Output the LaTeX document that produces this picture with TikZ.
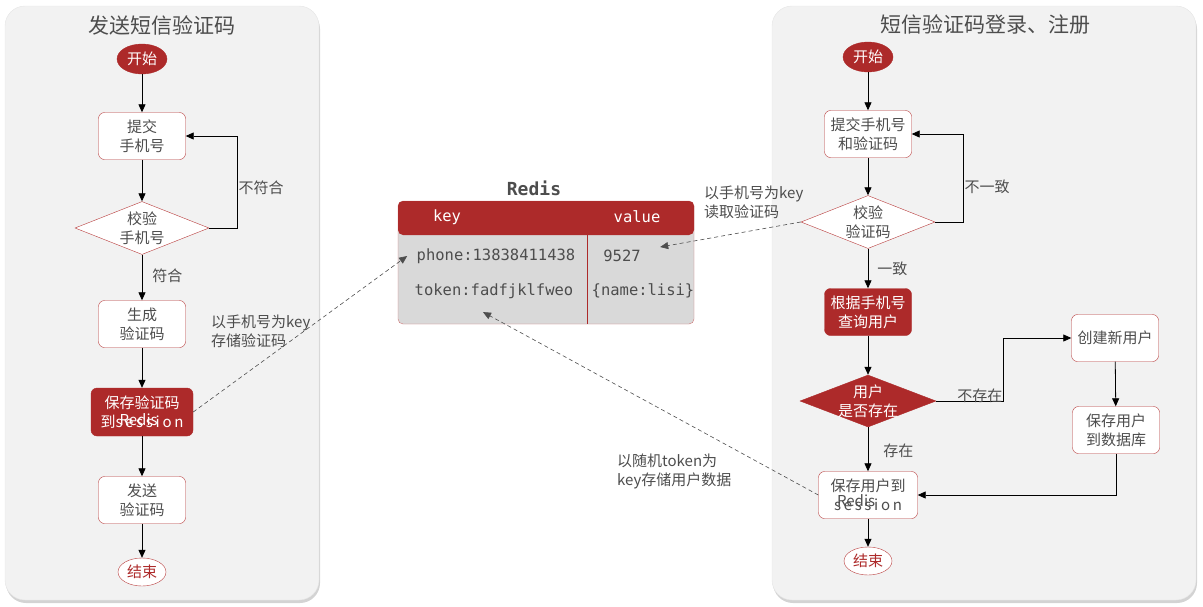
\documentclass[tikz,border=0pt]{standalone}
\usepackage{fontspec}
\usepackage{tikz}
\usetikzlibrary{shapes.geometric, arrows.meta, shadows}
\newfontfamily\cjk{Noto Sans CJK SC}
\newfontfamily\cjkwide[LetterSpace=18]{Noto Sans CJK SC}
\newfontfamily\monof{DejaVu Sans Mono}
\definecolor{rdred}{HTML}{AD2A2A}
\definecolor{rdline}{HTML}{B83A3A}
\definecolor{txtgray}{HTML}{4D4D4D}
\definecolor{panelgray}{HTML}{F2F2F2}
\definecolor{cellgray}{HTML}{D9D9D9}
\begin{document}
\begin{tikzpicture}[x=1pt, y=-1pt,
  every node/.style={font=\cjk\fontsize{15}{19}\selectfont, text=txtgray, align=center},
  panel/.style={fill=panelgray, draw=gray!20, rounded corners=20pt,
    drop shadow={shadow xshift=1pt, shadow yshift=-3pt, opacity=0.35}},
  procbox/.style={draw=rdline, fill=white, rounded corners=6pt, minimum width=87pt, minimum height=47pt, inner sep=0pt},
  redbox/.style={procbox, draw=rdred, fill=rdred, text=white},
  decide/.style={diamond, draw=rdline, fill=white, aspect=2.5, inner sep=-4pt, minimum width=134pt, minimum height=53pt},
  reddecide/.style={decide, draw=rdred, fill=rdred, text=white},
  startnode/.style={ellipse, draw=rdred, fill=rdred, text=white, minimum width=50pt, minimum height=30pt, inner sep=0pt},
  endnode/.style={ellipse, draw=rdline, fill=white, text=rdred, minimum width=48pt, minimum height=28pt, inner sep=0pt},
  flow/.style={-{Triangle[length=8pt,width=7pt]}, black, line width=0.8pt},
  note/.style={dash pattern=on 4pt off 3pt, txtgray, -{Triangle[length=8pt,width=7pt]}, line width=0.6pt},
  lbl/.style={align=left, anchor=west, inner sep=1pt},
  cell/.style={font=\monof\fontsize{15.5}{18}\selectfont},
]
\useasboundingbox (0,0) rectangle (1203,606);
% panels
\draw[panel] (5,6) rectangle (319,600);
\draw[panel] (772,6) rectangle (1196,600);
\node[font=\cjk\fontsize{21}{24}\selectfont] (ltitle) at (162,25) {发送短信验证码};
\node[font=\cjk\fontsize{21}{24}\selectfont] (rtitle) at (985,25) {短信验证码登录、注册};

% send code
\node[startnode] (lstart) at (142,59) {开始};
\node[procbox] (lsubmit) at (142,136) {提交\\手机号};
\node[decide] (lcheck) at (142,228) {校验\\手机号};
\node[procbox] (lgen) at (142,324) {生成\\验证码};
\node[redbox, minimum width=102pt, minimum height=48pt] (lsave) at (142,412)
  {保存验证码\\到\makebox[0pt][l]{\hspace{4pt}\raisebox{2pt}{Redis}}{\cjkwide session}};
\node[procbox] (lsend) at (142,500) {发送\\验证码};
\node[endnode] (lend) at (142,572) {结束};

\draw[flow] (lstart) -- (lsubmit);
\draw[flow] (lsubmit) -- (lcheck);
\draw[flow] (lcheck.east) -- ++(28,0) |- (lsubmit.east) node[pos=0.22, lbl] {不符合};
\draw[flow] (lcheck) -- (lgen) node[pos=0.47, lbl, xshift=9pt] {符合};
\draw[flow] (lgen) -- (lsave);
\draw[flow] (lsave) -- (lsend);
\draw[flow] (lsend) -- (lend);

% redis table
\node[font=\monof\bfseries\fontsize{18}{20}\selectfont] (redis) at (534,188) {Redis};
\draw[draw=rdline!70, fill=cellgray, rounded corners=5pt] (398,201) rectangle (694,324);
\fill[rdred, rounded corners=5pt] (398,201) rectangle (694,235);
\draw[rdred] (587,235) -- (587,324);
\node[cell, text=white] (hkey) at (447,217) {key};
\node[cell, text=white] (hval) at (637,217) {value};
\node[cell] (kphone) at (496,256) {phone:13838411438};
\node[cell] (vphone) at (622,256) {9527};
\node[cell] (ktoken) at (494,291) {token:fadfjklfweo};
\node[cell] (vtoken) at (643,291) {\{name:lisi\}};

% login / register
\node[startnode] (rstart) at (868,57) {开始};
\node[procbox] (rsubmit) at (868,134) {提交手机号\\和验证码};
\node[decide] (rcheck) at (868,222) {校验\\验证码};
\node[redbox] (rquery) at (868,312) {根据手机号\\查询用户};
\node[reddecide, aspect=2.6, minimum width=136pt, minimum height=52pt] (rexist) at (868,401) {用户\\是否存在};
\node[procbox, minimum width=99pt] (rsave) at (868,495)
  {保存用户到\\\makebox[0pt][l]{\hspace{3pt}\raisebox{4pt}{Redis}}{\cjkwide session}};
\node[endnode] (rend) at (868,561) {结束};
\node[procbox] (rcreate) at (1115,338) {创建新用户};
\node[procbox] (rstore) at (1116,430) {保存用户\\到数据库};

\draw[flow] (rstart) -- (rsubmit);
\draw[flow] (rsubmit) -- (rcheck);
\draw[flow] (rcheck.east) -- ++(28,0) |- (rsubmit.east) node[pos=0.2, lbl] {不一致};
\draw[flow] (rcheck) -- (rquery) node[pos=0.52, lbl, xshift=8pt] {一致};
\draw[flow] (rquery) -- (rexist);
\draw[flow] (rexist) -- (rsave) node[pos=0.53, lbl, xshift=14pt] {存在};
\draw[flow] (rexist.east) -- node[pos=0.65, yshift=5pt, inner sep=0pt] {不存在} ++(67,0) |- (rcreate.west);
\draw[flow] (rcreate) -- (rstore);
\draw[flow] (rstore.south) |- (rsave.east);
\draw[flow] (rsave) -- (rend);

% redis access
\draw[note] (lsave.east) -- ([xshift=-6pt]kphone.west);
\node[lbl] (lnote) at (210,331) {以手机号为key\\存储验证码};
\draw[note] (rcheck.west) -- ([xshift=16pt, yshift=9pt]vphone.east);
\node[lbl] (rnote1) at (703,202) {以手机号为key\\读取验证码};
\draw[note] (rsave.west) -- ([xshift=-11pt, yshift=-10pt]ktoken.south);
\node[lbl] (rnote2) at (616,471) {以随机token为\\key存储用户数据};
\end{tikzpicture}
\end{document}
